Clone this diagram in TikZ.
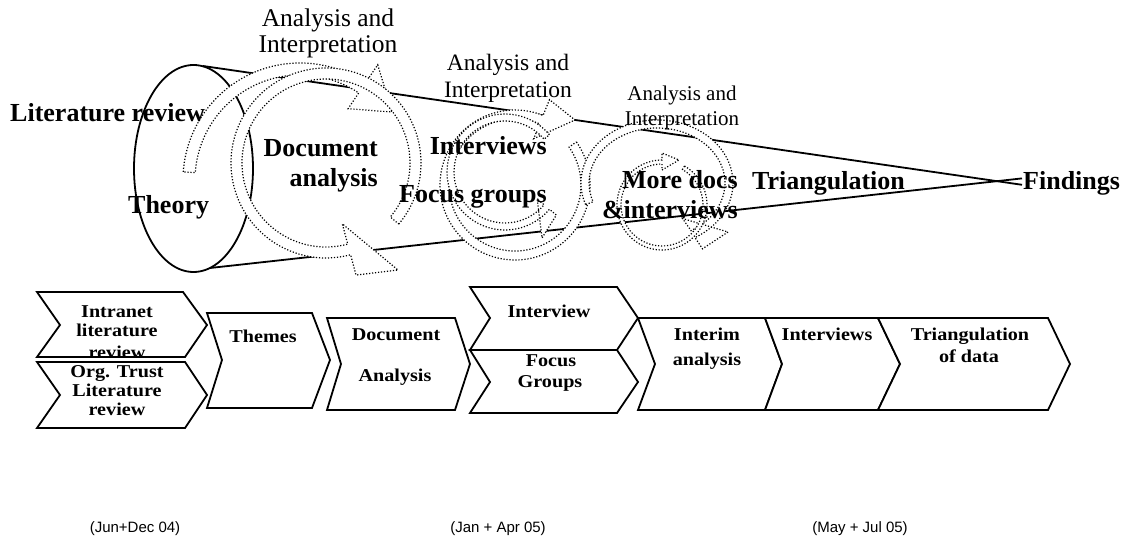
\documentclass[tikz,border=0pt]{standalone}
\usepackage{graphicx}
\usepackage{fontspec}
\setmainfont{Liberation Serif}
\newfontfamily\arialfont{Liberation Sans}
\usetikzlibrary{calc}
\newcommand\circarr[8]{%
  \draw[carr] ($#1+(#4:#3pt)$) arc[start angle=#4, end angle=#5, radius=#3pt]
    -- ($#1+(#5:#7pt)$) -- #8 -- ($#1+(#5:#6pt)$) -- ($#1+(#5:#2pt)$)
    arc[start angle=#5, end angle=#4, radius=#2pt] -- cycle;}
\newcommand\sq[1]{\scalebox{0.96}[0.86]{#1}}
\begin{document}
\begin{tikzpicture}[x=1pt,y=1pt,
  outl/.style={draw=black, line width=1.8pt},
  carr/.style={draw=black, fill=white, line width=1.2pt, dash pattern=on 1.2pt off 1.8pt},
  chev/.style={draw=black, fill=white, line width=1.8pt, line join=miter},
  big/.style={font=\bfseries\fontsize{26}{28}\selectfont, inner sep=0pt},
  small/.style={font=\bfseries\fontsize{21}{23}\selectfont, inner sep=0pt},
  laba/.style={font=\fontsize{25.5}{27}\selectfont, inner sep=0pt},
  labb/.style={font=\fontsize{23.5}{25}\selectfont, inner sep=0pt},
  labc/.style={font=\fontsize{21}{23}\selectfont, inner sep=0pt},
  date/.style={font=\arialfont\fontsize{15}{17}\selectfont, inner sep=0pt}]
\useasboundingbox (0,0) rectangle (1127,-545);

% cone
\draw[outl] (193.5,-168.5) ellipse[x radius=59.5pt, y radius=103.5pt];
\coordinate (ctop) at (203,-66);
\coordinate (cbot) at (210,-268);
\coordinate (etop) at (1022,-184.8);
\coordinate (ebot) at (1022,-178.4);
\draw[outl] (ctop) -- (etop);
\draw[outl] (cbot) -- (ebot);

% circular arrows (dotted)
\circarr{(300,-180)}{105}{117}{176}{56}{86}{139}{(392,-112)}
\circarr{(326,-163)}{84}{95}{-40}{285}{63}{116}{(398,-270)}
\circarr{(515,-185)}{66}{75}{35}{-292}{50}{92}{(575,-120)}
\circarr{(505,-172)}{51}{58}{40}{320}{42}{67}{(542,-238)}
\draw[carr] ($(657,-183)+(200:76pt and 63pt)$)
  arc[start angle=200, end angle=-60, x radius=76pt, y radius=63pt]
  -- ($(657,-183)+(-60:91pt and 76pt)$) -- (728,-232)
  -- ($(657,-183)+(-60:51pt and 41pt)$) -- ($(657,-183)+(-60:68pt and 55pt)$)
  arc[start angle=-60, end angle=200, x radius=68pt, y radius=55pt] -- cycle;
\circarr{(662,-205)}{41}{45}{60}{-270}{35}{52}{(679,-160)}

% top labels
\node[laba, anchor=base] (ai1a) at (328,-27) {Analysis and};
\node[laba, anchor=base] (ai1b) at (328,-53) {Interpretation};
\node[labb, anchor=base] (ai2a) at (508,-71) {Analysis and};
\node[labb, anchor=base] (ai2b) at (508,-98) {Interpretation};
\node[labc, anchor=base] (ai3a) at (682,-101) {Analysis and};
\node[labc, anchor=base] (ai3b) at (682,-126) {Interpretation};

\node[big, anchor=base west] (lit) at (10,-122) {Literature review};
\node[big, anchor=base west] (theory) at (128,-214) {Theory};
\node[big, anchor=base east] (doca) at (378,-157) {Document};
\node[big, anchor=base east] (docb) at (378,-187) {analysis};
\node[big, anchor=base east] (intv) at (547,-155) {Interviews};
\node[big, anchor=base east] (focus) at (547,-203) {Focus groups};
\node[big, anchor=base east] (morea) at (738,-189) {More docs};
\node[big, anchor=base east] (moreb) at (738,-219) {\&interviews};
\node[big, anchor=base west] (tri) at (752,-190) {Triangulation};
\node[big, anchor=base west] (find) at (1023,-190) {Findings};

% chevrons
\draw[chev] (37,-292) -- (183,-292) -- (207,-325) -- (185,-357) -- (37,-357) -- (60,-325) -- cycle;
\draw[chev] (37,-362) -- (185,-362) -- (207,-395) -- (185,-428) -- (37,-428) -- (60,-395) -- cycle;
\draw[chev] (207,-313) -- (312,-313) -- (330,-360) -- (312,-408) -- (207,-408) -- (222,-360) -- cycle;
\draw[chev] (327,-318) -- (455,-318) -- (470,-364) -- (455,-410) -- (327,-410) -- (341,-364) -- cycle;
\draw[chev] (470,-287) -- (617,-287) -- (638,-318) -- (617,-350) -- (470,-350) -- (490,-318) -- cycle;
\draw[chev] (470,-350) -- (617,-350) -- (638,-382) -- (617,-413) -- (470,-413) -- (490,-382) -- cycle;
\draw[chev] (638,-318) -- (765,-318) -- (782,-364) -- (765,-410) -- (638,-410) -- (655,-364) -- cycle;
\draw[chev] (765,-318) -- (878,-318) -- (900,-364) -- (878,-410) -- (765,-410) -- (782,-364) -- cycle;
\draw[chev] (878,-318) -- (1048,-318) -- (1070,-364) -- (1048,-410) -- (878,-410) -- (900,-364) -- cycle;

% chevron texts
\node[small, anchor=base] (in1) at (117,-317) {\sq{Intranet}};
\node[small, anchor=base] (in2) at (117,-337) {\sq{literature}};
\begin{scope}
  \clip (30,-300) rectangle (200,-355);
  \node[small, anchor=base] (in3) at (117,-358) {\sq{review}};
\end{scope}
\node[small, anchor=base] (or1) at (117,-377) {\sq{Org. Trust}};
\node[small, anchor=base] (or2) at (117,-396) {\sq{Literature}};
\node[small, anchor=base] (or3) at (117,-415) {\sq{review}};
\node[small, anchor=base] (th) at (263,-342) {\sq{Themes}};
\node[small, anchor=base] (da1) at (396,-341) {\sq{Document}};
\node[small, anchor=base] (da2) at (395,-381) {\sq{Analysis}};
\node[small, anchor=base] (iv) at (549,-318) {\sq{Interview}};
\node[small, anchor=base] (fg1) at (551,-366) {\sq{Focus}};
\node[small, anchor=base] (fg2) at (550,-387) {\sq{Groups}};
\node[small, anchor=base] (ia1) at (707,-341) {\sq{Interim}};
\node[small, anchor=base] (ia2) at (707,-365) {\sq{analysis}};
\node[small, anchor=base] (ivs) at (827,-341) {\sq{Interviews}};
\node[small, anchor=base] (td1) at (970,-341) {\sq{Triangulation}};
\node[small, anchor=base] (td2) at (969,-362) {\sq{of data}};

% dates
\node[date, anchor=base] (d1) at (135,-532) {(Jun+Dec 04)};
\node[date, anchor=base] (d2) at (498,-532) {(Jan + Apr 05)};
\node[date, anchor=base] (d3) at (860,-532) {(May + Jul 05)};
\end{tikzpicture}
\end{document}
